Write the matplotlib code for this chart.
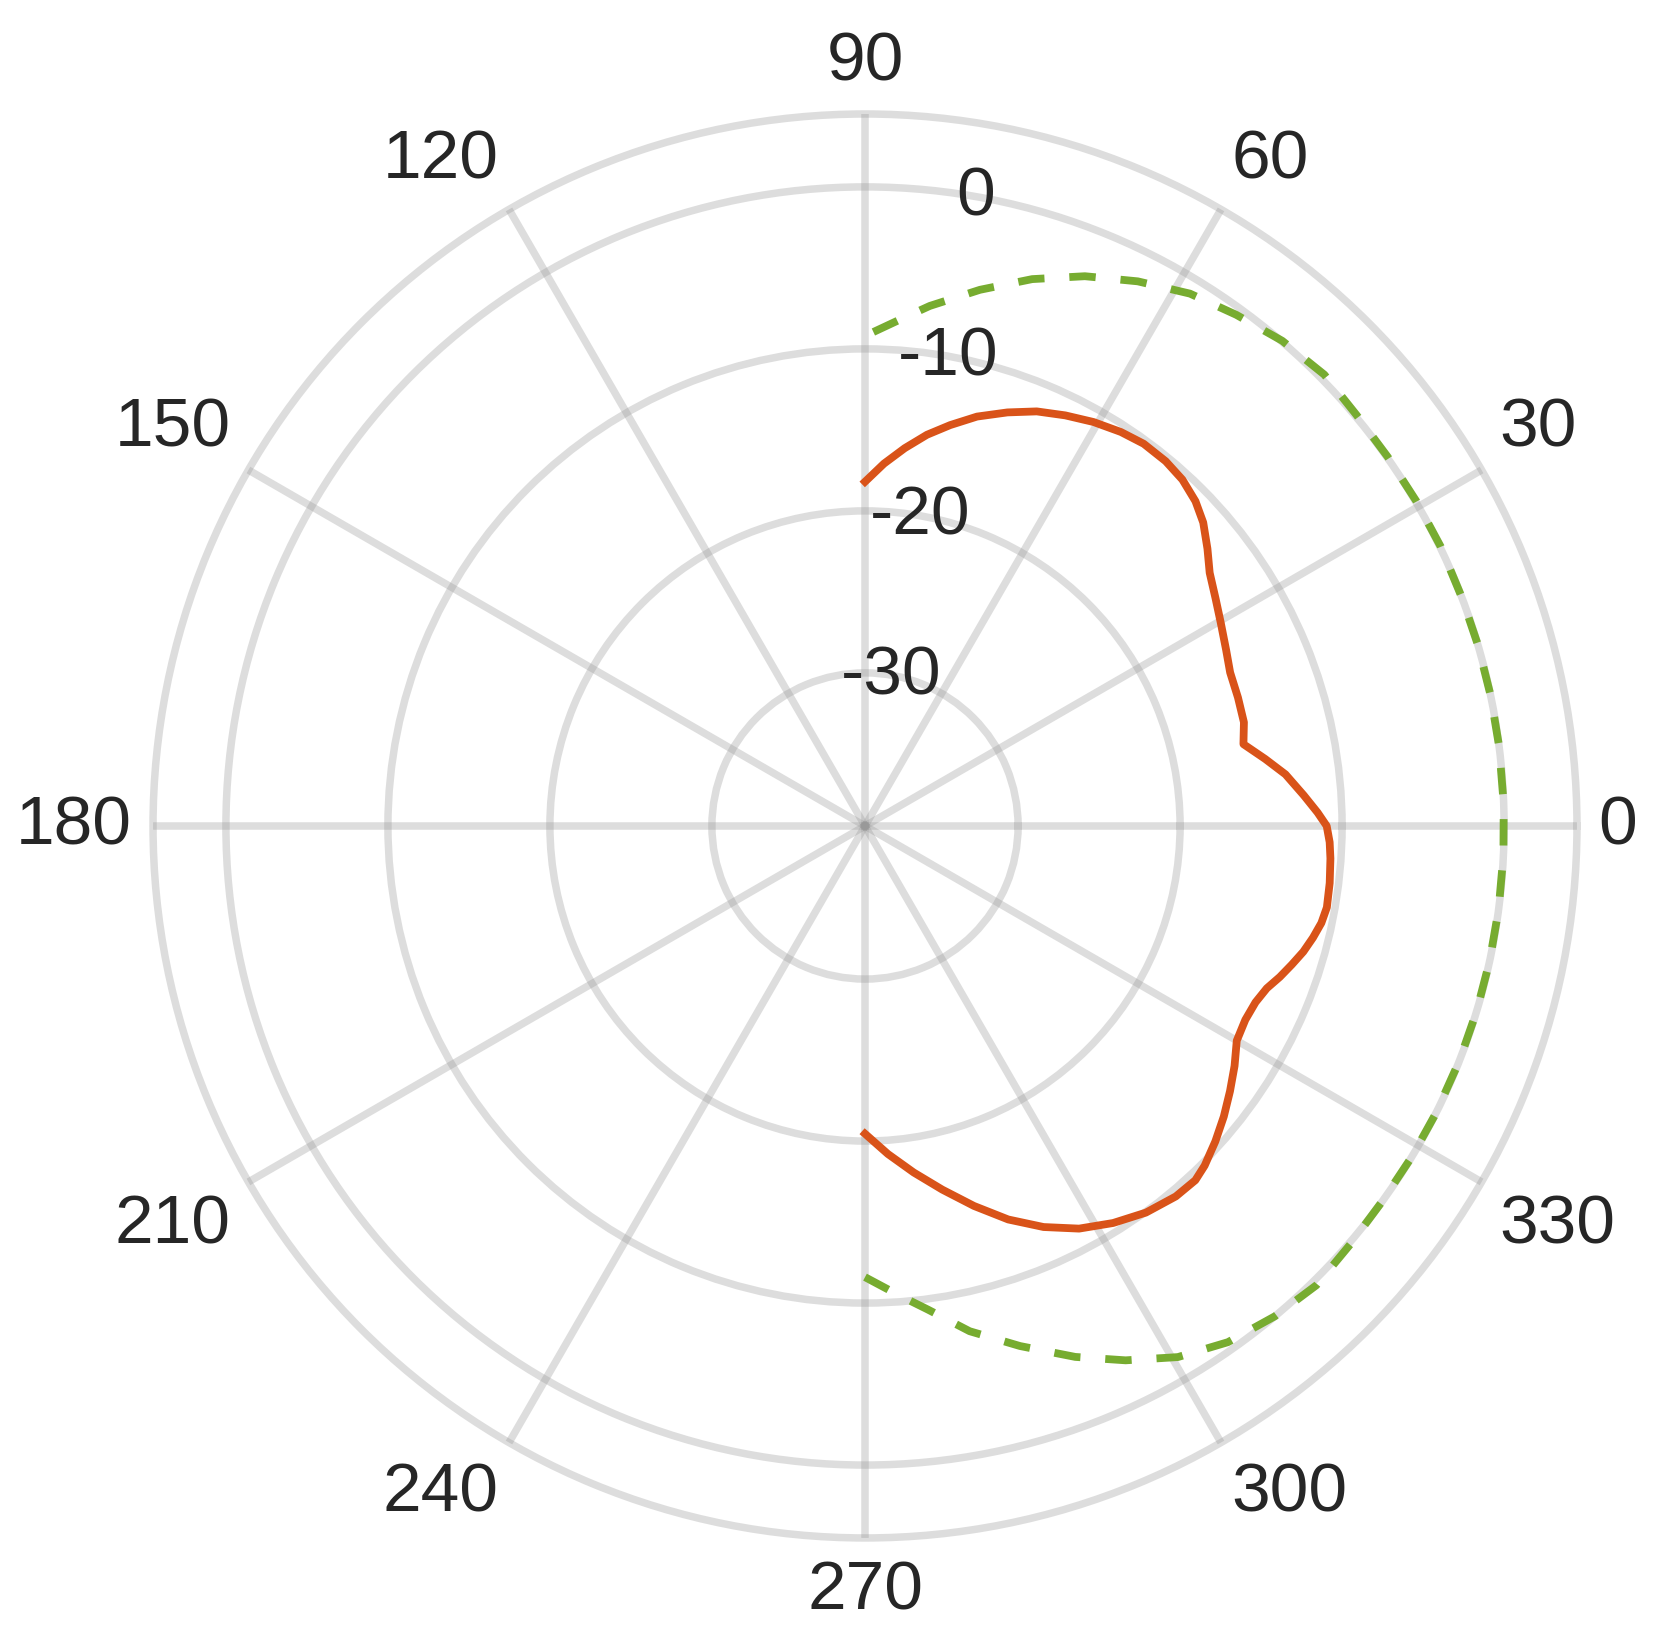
import numpy as np
import matplotlib.pyplot as plt

plt.rcParams['font.family'] = ['Liberation Sans', 'DejaVu Sans']

# pattern readings: angle in degrees, level in dB
red_deg = [-90, -86, -82, -78, -74, -70, -66, -62, -58, -54, -50, -47, -45, -42, -39,
           -36, -33, -30, -27, -24.3, -22, -20, -18, -16, -14, -12, -10, -7, -4, -2, 0,
           1.7, 4, 7, 9.5, 12.2, 15.3, 19, 22.8, 26, 29.8, 33, 36.3, 39, 41.9, 44.5,
           47.5, 50.5, 53.9, 57, 60.5, 64, 67.5, 71, 74.7, 78, 81, 84, 87, 90]
red_db = [-20.45, -19.15, -17.85, -16.5, -15.05, -13.6, -12.35, -11.3, -10.55, -9.95, -9.6, -9.55, -9.8, -10.35, -10.95,
          -11.6, -12.25, -12.95, -13.1, -13.0, -12.7, -12.2, -11.75, -11.3, -10.95, -10.65, -10.5, -10.55, -10.65, -10.75, -10.95,
          -11.5, -12.3, -13.3, -14.4, -15.55, -15.2, -15.1, -15.0, -14.65, -14.15, -13.65, -13.05, -12.25, -11.4, -10.85,
          -10.45, -10.27, -10.25, -10.45, -10.8, -11.25, -11.75, -12.45, -13.25, -14.15, -15.0, -16.0, -17.05, -18.2]

green_deg = [-90, -86, -82.6, -78.3, -73.4, -68.4, -64, -59.5, -54.9, -50.1, -45.5, -40.7,
             -36.1, -31.2, -26.8, -21.6, -16.9, -12.2, -7.5, -2.6, 2, 7.2, 11.8, 16.5, 21,
             25.9, 30.5, 35.2, 39.9, 44.5, 49.3, 54, 58.6, 63.4, 68.2, 73, 77.9, 82.9, 86, 90]
green_db = [-11.6, -10.45, -9.35, -7.6, -5.95, -4.2, -2.75, -1.4, -0.5, 0.0, 0.3, 0.1,
            0.0, 0.0, 0.0, 0.0, 0.0, 0.0, 0.0, 0.0, 0.0, 0.0, 0.0, 0.0, 0.0,
            0.05, 0.05, 0.05, 0.1, 0.3, 0.05, -0.45, -0.95, -1.85, -2.9, -4.15, -5.6, -7.1, -8.1, -9.2]

theta_ticks = list(range(0, 360, 30))
theta_labels = [str(t) for t in theta_ticks]
r_ticks = [-30, -20, -10, 0]
r_labels = ['-30', '-20', '-10', '0']

grid_col = (0.6, 0.6, 0.6)
text_col = '#262626'

fig = plt.figure(figsize=(8.335, 8.245), dpi=200)
ax = fig.add_axes([0.0918, 0.0667, 0.8542, 0.8636], projection='polar')

ax.plot(np.deg2rad(red_deg), red_db, color='#D95319', lw=2.8)
ax.plot(np.deg2rad(green_deg), green_db, color='#77AC30', lw=2.8, dashes=(3.4, 3.2))

ax.set_ylim(-39.45, 4.5)
ax.set_thetagrids(theta_ticks, theta_labels)
ax.set_rgrids(r_ticks, r_labels)
ax.set_rlabel_position(80)
ax.grid(True, color=grid_col, alpha=0.33, lw=2.7)
ax.spines['polar'].set_edgecolor(grid_col + (0.33,))
ax.spines['polar'].set_linewidth(2.7)

ax.tick_params(axis='x', length=0, pad=0.5, labelsize=25, labelcolor=text_col)
ax.tick_params(axis='y', length=0, labelsize=25, labelcolor=text_col)

for t, lab in zip(theta_ticks, ax.get_xticklabels()):
    c = np.cos(np.deg2rad(t))
    s = np.sin(np.deg2rad(t))
    lab.set_ha('left' if c > 0.01 else ('right' if c < -0.01 else 'center'))
    lab.set_va('bottom' if s > 0.01 else ('top' if s < -0.01 else 'center'))
for lab in ax.get_yticklabels():
    lab.set_ha('center')
    lab.set_va('center')

fig.savefig('out.png', dpi=200)
